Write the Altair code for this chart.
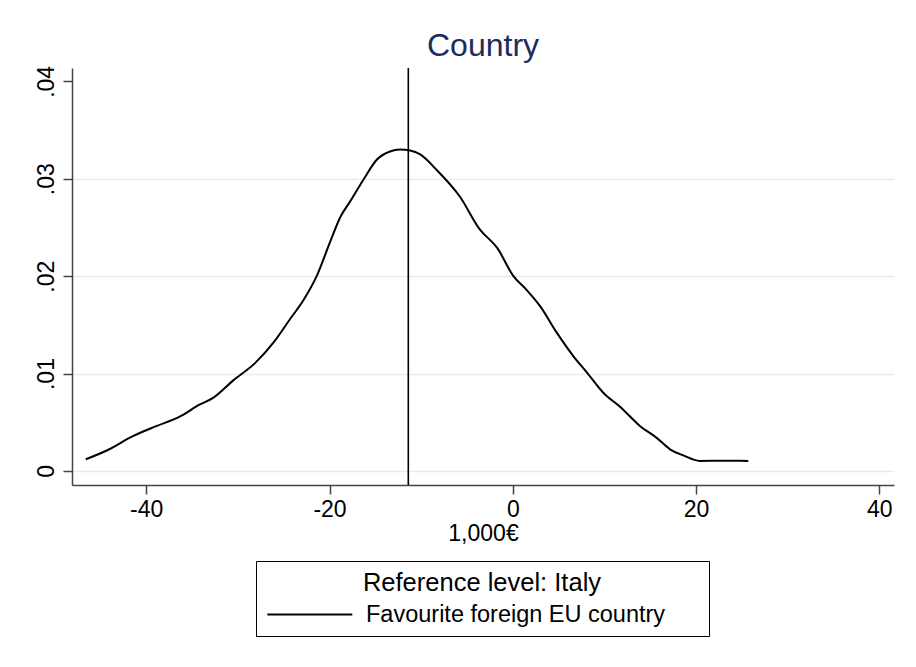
import altair as alt
import pandas as pd

# Kernel density curve
x_vals = [-46.6, -44.3, -41.4, -38.9, -36.3, -34.2, -32.7, -30.5, -28.1, -26.1,
          -24.3, -22.8, -21.4, -19.9, -18.8, -17.8, -16.3, -14.8,
          -13.4, -12.3, -11.2, -10.1, -8.3, -5.8, -3.6, -1.7, 0.07, 1.5,
          3.0, 4.8, 6.6, 8.1, 9.9, 11.7, 13.9, 15.7, 17.2, 18.6, 20.4, 23.0, 25.7]
y_vals = [0.0012, 0.0021, 0.0036, 0.0046, 0.0056, 0.0068, 0.0075, 0.0093, 0.0111, 0.0132,
          0.0156, 0.0176, 0.0200, 0.0236, 0.0261, 0.0276, 0.0299, 0.0320,
          0.0328, 0.0330, 0.0329, 0.0325, 0.0309, 0.0282, 0.0248, 0.0229, 0.0200, 0.0186,
          0.0169, 0.0142, 0.0118, 0.0101, 0.0080, 0.0066, 0.0046, 0.0034, 0.0022, 0.0016,
          0.00103, 0.00105, 0.00103]
series_name = "Favourite foreign EU country"
ref_line_x = [-11.4]
x_ticks = [-40, -20, 0, 20, 40]
y_ticks = [0, 0.01, 0.02, 0.03, 0.04]

FONT = "Liberation Sans"

curve = pd.DataFrame({"x": x_vals, "y": y_vals, "series": series_name})
ref = pd.DataFrame({"x": ref_line_x})

x_scale = alt.Scale(domain=[-48.1, 41.6], nice=False, zero=False)
y_scale = alt.Scale(domain=[-0.00144, 0.04137], nice=False, zero=False)

line = alt.Chart(curve).mark_line(strokeWidth=2, interpolate="monotone").encode(
    x=alt.X("x:Q", scale=x_scale,
            axis=alt.Axis(title="1,000€", values=x_ticks, grid=False,
                          labelExpr="'' + datum.value", tickSize=9,
                          labelPadding=4, titlePadding=1)),
    y=alt.Y("y:Q", scale=y_scale,
            axis=alt.Axis(title=None, values=y_ticks, tickSize=9,
                          labelAngle=270, labelAlign="center", labelBaseline="bottom",
                          labelPadding=5,
                          labelExpr="datum.value == 0 ? '0' : replace(format(datum.value, '.2f'), '0.', '.')",
                          gridColor={"condition": {"test": "datum.value > 0.035", "value": "transparent"},
                                     "value": "#e5ecf1"})),
    color=alt.Color("series:N",
                    scale=alt.Scale(domain=[series_name], range=["black"]),
                    legend=alt.Legend(title="Reference level: Italy", orient="none",
                                      legendX=184, legendY=493, strokeColor="black",
                                      padding=10, symbolType="M-1,0H7M39.3,0", symbolSize=451,
                                      symbolStrokeWidth=1.8, labelFontSize=23.5,
                                      titleFontSize=25.5, titleFontWeight="normal",
                                      titleAnchor="middle", titlePadding=6,
                                      titleLimit=1000,
                                      labelOffset=76, labelLimit=1000,
                                      labelFont=FONT, titleFont=FONT,
                                      labelColor="black", titleColor="black")),
)

rule = alt.Chart(ref).mark_rule(color="black", strokeWidth=1.6).encode(x=alt.X("x:Q", scale=x_scale))

chart = alt.layer(line, rule).properties(
    width=822,
    height=417,
    title=alt.TitleParams("Country", fontSize=32, font=FONT, fontWeight="normal",
                          color="#1b2c5e", anchor="middle", offset=2),
    autosize=alt.AutoSizeParams(type="none"),
    padding={"left": 64, "top": 60, "right": 14, "bottom": 174},
).configure(background="white").configure_view(stroke=None).configure_axis(
    labelFont=FONT, titleFont=FONT, labelFontSize=23, titleFontSize=23,
    titleFontWeight="normal", labelColor="black", titleColor="black",
    domainColor="#444444", domainWidth=1.5, tickColor="#444444", tickWidth=1.5,
    gridWidth=1.5,
)

chart.save("out.html", embed_options={"renderer": "svg", "actions": False})
